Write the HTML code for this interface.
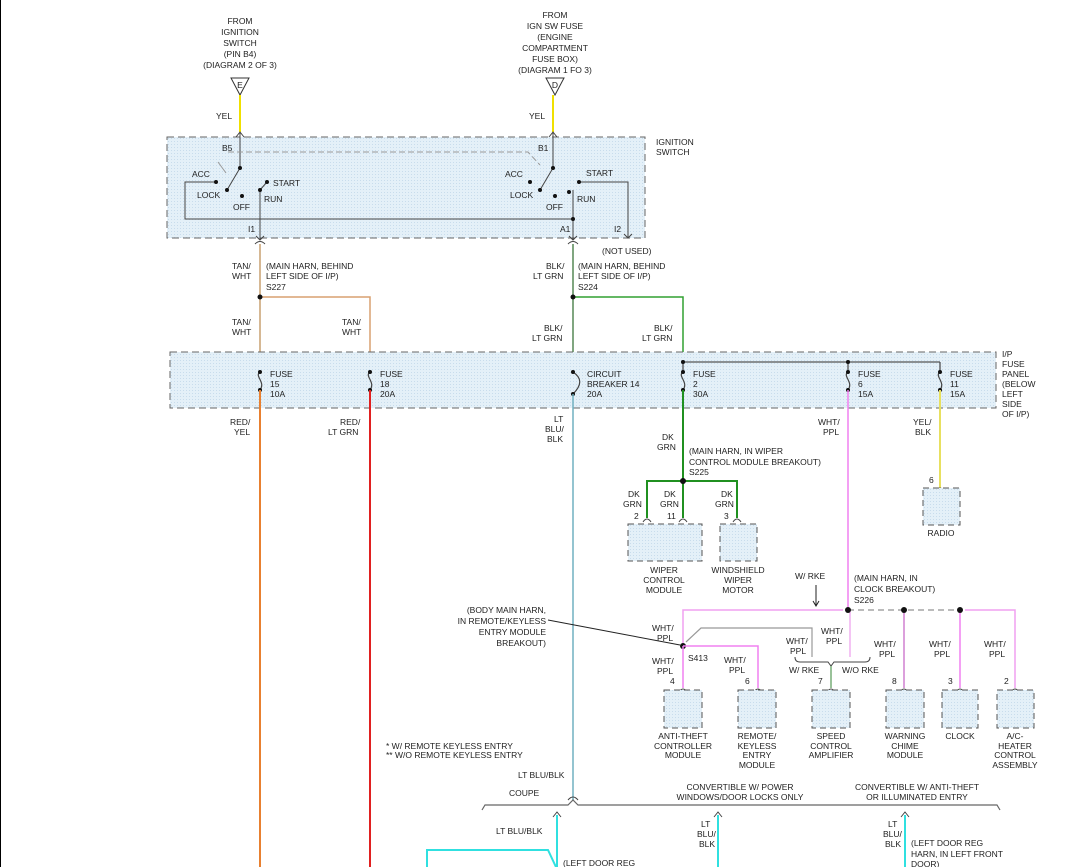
<!DOCTYPE html>
<html><head><meta charset="utf-8"><style>
html,body{margin:0;padding:0;background:#fff}
svg{display:block}
text{font-family:"Liberation Sans",sans-serif;font-size:8.5px;fill:#222}
</style></head><body>
<svg width="1070" height="867" viewBox="0 0 1070 867" xmlns="http://www.w3.org/2000/svg">
<defs>
<pattern id="dots" width="3" height="3" patternUnits="userSpaceOnUse"><rect width="3" height="3" fill="#e4f0f8"/><rect width="1" height="1" fill="#c8dcec"/></pattern>
</defs>
<line x1="0.5" y1="0" x2="0.5" y2="867" stroke="#000"/>
<!-- top labels -->
<g text-anchor="middle">
<text x="240" y="24">FROM</text><text x="240" y="35">IGNITION</text><text x="240" y="46">SWITCH</text><text x="240" y="57">(PIN B4)</text><text x="240" y="68">(DIAGRAM 2 OF 3)</text>
<text x="555" y="18">FROM</text><text x="555" y="29">IGN SW FUSE</text><text x="555" y="40">(ENGINE</text><text x="555" y="51">COMPARTMENT</text><text x="555" y="62">FUSE BOX)</text><text x="555" y="73">(DIAGRAM 1 FO 3)</text>
</g>
<polygon points="231,78 249,78 240,95" fill="#fff" stroke="#333"/><text x="240" y="88" text-anchor="middle" font-size="8">E</text>
<polygon points="546,78 564,78 555,95" fill="#fff" stroke="#333"/><text x="555" y="88" text-anchor="middle" font-size="8">D</text>
<line x1="240" y1="95" x2="240" y2="132" stroke="#f0e000" stroke-width="2"/>
<line x1="553" y1="95" x2="553" y2="132" stroke="#f0e000" stroke-width="2"/>
<text x="216" y="119">YEL</text><text x="529" y="119">YEL</text>
<!-- ignition switch box -->
<rect x="167" y="137" width="478" height="101" fill="url(#dots)" stroke="#666" stroke-dasharray="7,4"/>
<text x="656" y="145">IGNITION</text><text x="656" y="155">SWITCH</text>
<g stroke="#444" fill="none">
<path d="M240,132 L240,168 M236,137 L240,132 L244,137"/>
<path d="M553,132 L553,168 M549,137 L553,132 L557,137"/>
<path d="M228,152 L528,152 L540,165" stroke="#999" stroke-dasharray="6,3"/>
<path d="M218,162 L226,173" stroke="#999"/>
<path d="M240,168 L227,190"/><path d="M553,168 L540,190"/>
<path d="M216,182 L185,182 L185,219 L573,219"/>
<path d="M267,182 L260,190 L260,240"/>
<path d="M573,190 L573,240"/>
<path d="M579,182 L628,182 L628,238"/>
<path d="M256,236 L260,240 L264,236 M569,236 L573,240 L577,236 M624,234 L628,238 L632,234"/>
<path d="M255,244 Q260,239 265,244 M568,244 Q573,239 578,244"/>
</g>
<g fill="#111">
<circle cx="240" cy="168" r="2"/><circle cx="216" cy="182" r="2"/><circle cx="227" cy="190" r="2"/><circle cx="242" cy="196" r="2"/><circle cx="267" cy="182" r="2"/><circle cx="260" cy="190" r="2"/>
<circle cx="553" cy="168" r="2"/><circle cx="530" cy="182" r="2"/><circle cx="540" cy="190" r="2"/><circle cx="555" cy="196" r="2"/><circle cx="579" cy="182" r="2"/><circle cx="569" cy="192" r="2"/><circle cx="573" cy="219" r="2"/>
</g>
<text x="222" y="151">B5</text><text x="538" y="151">B1</text>
<text x="192" y="177">ACC</text><text x="197" y="198">LOCK</text><text x="233" y="210">OFF</text><text x="273" y="186">START</text><text x="264" y="202">RUN</text>
<text x="505" y="177">ACC</text><text x="510" y="198">LOCK</text><text x="546" y="210">OFF</text><text x="586" y="176">START</text><text x="577" y="202">RUN</text>
<text x="248" y="232">I1</text><text x="560" y="232">A1</text><text x="614" y="232">I2</text>
<text x="602" y="254">(NOT USED)</text>
<!-- wires S227 / S224 -->
<line x1="260" y1="244" x2="260" y2="372" stroke="#c8a070" stroke-width="1.5"/>
<path d="M260,297 L370,297 L370,372" stroke="#d8a070" stroke-width="1.5" fill="none"/>
<circle cx="260" cy="297" r="2.5" fill="#111"/>
<line x1="573" y1="244" x2="573" y2="372" stroke="#558855" stroke-width="1.5"/>
<path d="M573,297 L683,297 L683,362" stroke="#30a030" stroke-width="1.5" fill="none"/>
<circle cx="573" cy="297" r="2.5" fill="#111"/>
<text x="232" y="269">TAN/</text><text x="232" y="279">WHT</text>
<text x="266" y="269">(MAIN HARN, BEHIND</text><text x="266" y="279">LEFT SIDE OF I/P)</text><text x="266" y="290">S227</text>
<text x="546" y="269">BLK/</text><text x="533" y="279">LT GRN</text>
<text x="578" y="269">(MAIN HARN, BEHIND</text><text x="578" y="279">LEFT SIDE OF I/P)</text><text x="578" y="290">S224</text>
<text x="232" y="325">TAN/</text><text x="232" y="335">WHT</text><text x="342" y="325">TAN/</text><text x="342" y="335">WHT</text>
<text x="544" y="331">BLK/</text><text x="532" y="341">LT GRN</text><text x="654" y="331">BLK/</text><text x="642" y="341">LT GRN</text>
<!-- fuse panel -->
<rect x="170" y="352" width="826" height="56" fill="url(#dots)" stroke="#666" stroke-dasharray="7,4"/>
<text x="1002" y="357">I/P</text><text x="1002" y="367">FUSE</text><text x="1002" y="377">PANEL</text><text x="1002" y="387">(BELOW</text><text x="1002" y="397">LEFT</text><text x="1002" y="407">SIDE</text><text x="1002" y="417">OF I/P)</text>
<line x1="683" y1="362" x2="940" y2="362" stroke="#555" stroke-width="1.2"/>
<g stroke="#444" fill="none" stroke-width="1.2">
<path d="M260,372 C254,376 266,382 260,390"/><path d="M370,372 C364,376 376,382 370,390"/>
<path d="M573,372 C582,378 582,385 573,394"/>
<path d="M683,362 L683,372 C677,376 689,382 683,390"/><path d="M848,362 L848,372 C842,376 854,382 848,390"/><path d="M940,362 L940,372 C934,376 946,382 940,390"/>
</g>
<g fill="#111"><circle cx="260" cy="372" r="2"/><circle cx="260" cy="390" r="2"/><circle cx="370" cy="372" r="2"/><circle cx="370" cy="390" r="2"/><circle cx="573" cy="372" r="2"/><circle cx="573" cy="394" r="2"/><circle cx="683" cy="372" r="2"/><circle cx="683" cy="390" r="2"/><circle cx="848" cy="372" r="2"/><circle cx="848" cy="390" r="2"/><circle cx="940" cy="372" r="2"/><circle cx="940" cy="390" r="2"/><circle cx="683" cy="362" r="2"/><circle cx="848" cy="362" r="2"/></g>
<text x="270" y="377">FUSE</text><text x="270" y="387">15</text><text x="270" y="397">10A</text>
<text x="380" y="377">FUSE</text><text x="380" y="387">18</text><text x="380" y="397">20A</text>
<text x="587" y="377">CIRCUIT</text><text x="587" y="387">BREAKER 14</text><text x="587" y="397">20A</text>
<text x="693" y="377">FUSE</text><text x="693" y="387">2</text><text x="693" y="397">30A</text>
<text x="858" y="377">FUSE</text><text x="858" y="387">6</text><text x="858" y="397">15A</text>
<text x="950" y="377">FUSE</text><text x="950" y="387">11</text><text x="950" y="397">15A</text>
<!-- long wires -->
<line x1="260" y1="390" x2="260" y2="867" stroke="#e88030" stroke-width="2"/>
<line x1="370" y1="390" x2="370" y2="867" stroke="#e02020" stroke-width="2"/>
<line x1="573" y1="394" x2="573" y2="800" stroke="#70b0c0" stroke-width="1.5"/>
<text x="230" y="425">RED/</text><text x="234" y="435">YEL</text>
<text x="340" y="425">RED/</text><text x="328" y="435">LT GRN</text>
<text x="554" y="422">LT</text><text x="545" y="432">BLU/</text><text x="547" y="442">BLK</text>
<!-- fuse 2 green -->
<path d="M683,390 L683,481 M647,518 L647,481 L737,481 L737,518 M683,481 L683,518" stroke="#209020" stroke-width="2" fill="none"/>
<circle cx="683" cy="481" r="3" fill="#111"/>
<text x="662" y="440">DK</text><text x="657" y="450">GRN</text>
<text x="689" y="454">(MAIN HARN, IN WIPER</text><text x="689" y="465">CONTROL MODULE BREAKOUT)</text><text x="689" y="475">S225</text>
<text x="628" y="497">DK</text><text x="623" y="507">GRN</text><text x="664" y="497">DK</text><text x="660" y="507">GRN</text><text x="721" y="497">DK</text><text x="715" y="507">GRN</text>
<text x="634" y="519">2</text><text x="667" y="519">11</text><text x="724" y="519">3</text>
<!-- radio -->
<line x1="940" y1="390" x2="940" y2="488" stroke="#e8e060" stroke-width="2"/>
<text x="913" y="425">YEL/</text><text x="915" y="435">BLK</text><text x="929" y="483">6</text>
<!-- WHT/PPL 848 -->
<line x1="848" y1="390" x2="848" y2="610" stroke="#f080f0" stroke-width="1.5"/>
<text x="818" y="425">WHT/</text><text x="823" y="435">PPL</text>
<text x="854" y="581">(MAIN HARN, IN</text><text x="854" y="592">CLOCK BREAKOUT)</text><text x="854" y="603">S226</text>
<text x="795" y="579">W/ RKE</text>
<path d="M816,585 L816,606 M813,601 L816,606 L819,601" stroke="#222" fill="none"/>
<path d="M683,646 L683,610 L843,610" stroke="#f0a0f0" stroke-width="1.5" fill="none"/>
<line x1="848" y1="610" x2="960" y2="610" stroke="#777" stroke-dasharray="6,4"/>
<path d="M965,610 L1015,610 L1015,688" stroke="#f0a0f0" stroke-width="1.5" fill="none"/>
<line x1="904" y1="610" x2="904" y2="688" stroke="#d080d0" stroke-width="1.5"/>
<line x1="960" y1="610" x2="960" y2="688" stroke="#f080f0" stroke-width="1.5"/>
<line x1="850" y1="610" x2="850" y2="657" stroke="#f0b0f0" stroke-width="1.5"/>
<g fill="#111"><circle cx="848" cy="610" r="3"/><circle cx="904" cy="610" r="3"/><circle cx="960" cy="610" r="3"/><circle cx="683" cy="646" r="3"/></g>
<path d="M683,646 L683,688 M683,646 L758,646 L758,688" stroke="#f080f0" stroke-width="1.5" fill="none"/>
<path d="M686,642 L701,628 L812,628 L812,657" stroke="#999" stroke-width="1.2" fill="none"/>
<path d="M795,657 Q795,662 800,662 L828,662 L831,666 L834,662 L865,662 Q870,662 870,657" stroke="#444" fill="none"/>
<line x1="831" y1="666" x2="831" y2="688" stroke="#559955" stroke-width="1.2"/>
<path d="M548,620 L680,645" stroke="#222" fill="none"/>
<text x="546" y="613" text-anchor="end">(BODY MAIN HARN,</text><text x="546" y="624" text-anchor="end">IN REMOTE/KEYLESS</text><text x="546" y="635" text-anchor="end">ENTRY MODULE</text><text x="546" y="646" text-anchor="end">BREAKOUT)</text>
<text x="652" y="631">WHT/</text><text x="657" y="641">PPL</text>
<text x="652" y="664">WHT/</text><text x="657" y="674">PPL</text><text x="688" y="661">S413</text>
<text x="724" y="663">WHT/</text><text x="729" y="673">PPL</text>
<text x="786" y="644">WHT/</text><text x="790" y="654">PPL</text>
<text x="821" y="634">WHT/</text><text x="826" y="644">PPL</text>
<text x="789" y="673">W/ RKE</text><text x="842" y="673">W/O RKE</text>
<text x="874" y="647">WHT/</text><text x="879" y="657">PPL</text>
<text x="929" y="647">WHT/</text><text x="934" y="657">PPL</text>
<text x="984" y="647">WHT/</text><text x="989" y="657">PPL</text>
<text x="670" y="684">4</text><text x="745" y="684">6</text><text x="818" y="684">7</text><text x="892" y="684">8</text><text x="948" y="684">3</text><text x="1004" y="684">2</text>
<!-- connector arcs + boxes -->
<g stroke="#444" fill="none">
<path d="M643,522 Q647,516 651,522 M679,522 Q683,516 687,522 M733,522 Q737,516 741,522 M936,491 Q940,485 944,491"/>
<path d="M679,692 Q683,686 687,692 M754,692 Q758,686 762,692 M827,692 Q831,686 835,692 M900,692 Q904,686 908,692 M956,692 Q960,686 964,692 M1011,692 Q1015,686 1019,692"/>
</g>
<g fill="url(#dots)" stroke="#555" stroke-dasharray="6,4">
<rect x="628" y="524" width="74" height="37"/><rect x="720" y="524" width="37" height="37"/><rect x="923" y="488" width="37" height="37"/>
<rect x="664" y="690" width="38" height="38"/><rect x="738" y="690" width="38" height="38"/><rect x="812" y="690" width="38" height="38"/><rect x="886" y="690" width="38" height="38"/><rect x="942" y="690" width="36" height="38"/><rect x="997" y="690" width="37" height="38"/>
</g>
<g text-anchor="middle">
<text x="941" y="536">RADIO</text>
<text x="664" y="573">WIPER</text><text x="664" y="583">CONTROL</text><text x="664" y="593">MODULE</text>
<text x="738" y="573">WINDSHIELD</text><text x="738" y="583">WIPER</text><text x="738" y="593">MOTOR</text>
<text x="683" y="739">ANTI-THEFT</text><text x="683" y="749">CONTROLLER</text><text x="683" y="758">MODULE</text>
<text x="757" y="739">REMOTE/</text><text x="757" y="749">KEYLESS</text><text x="757" y="758">ENTRY</text><text x="757" y="768">MODULE</text>
<text x="831" y="739">SPEED</text><text x="831" y="749">CONTROL</text><text x="831" y="758">AMPLIFIER</text>
<text x="905" y="739">WARNING</text><text x="905" y="749">CHIME</text><text x="905" y="758">MODULE</text>
<text x="960" y="739">CLOCK</text>
<text x="1015" y="739">A/C-</text><text x="1015" y="749">HEATER</text><text x="1015" y="758">CONTROL</text><text x="1015" y="768">ASSEMBLY</text>
</g>
<text x="386" y="749">* W/ REMOTE KEYLESS ENTRY</text><text x="386" y="758">** W/O REMOTE KEYLESS ENTRY</text>
<!-- bottom -->
<text x="518" y="778">LT BLU/BLK</text><text x="509" y="796">COUPE</text>
<path d="M568,800 Q573,794 578,800" stroke="#444" fill="none"/>
<path d="M482,810 L485,805 L568,805 L573,800 L578,805 L997,805 L1000,810" stroke="#666" stroke-width="1.2" fill="none"/>
<g text-anchor="middle">
<text x="740" y="790">CONVERTIBLE W/ POWER</text><text x="740" y="800">WINDOWS/DOOR LOCKS ONLY</text>
<text x="917" y="790">CONVERTIBLE W/ ANTI-THEFT</text><text x="917" y="800">OR ILLUMINATED ENTRY</text>
</g>
<g stroke="#30e0e0" stroke-width="2" fill="none">
<path d="M557,815 L557,867"/><path d="M427,867 L427,850 L548,850 L556,867"/>
<path d="M718,815 L718,867"/><path d="M905,815 L905,867"/>
</g>
<path d="M553,817 L557,812 L561,817 M714,817 L718,812 L722,817 M901,817 L905,812 L909,817" stroke="#444" fill="none"/>
<text x="496" y="834">LT BLU/BLK</text>
<text x="701" y="827">LT</text><text x="697" y="837">BLU/</text><text x="699" y="847">BLK</text>
<text x="888" y="827">LT</text><text x="883" y="837">BLU/</text><text x="885" y="847">BLK</text>
<text x="911" y="846">(LEFT DOOR REG</text><text x="911" y="857">HARN, IN LEFT FRONT</text><text x="911" y="867">DOOR)</text>
<text x="563" y="866">(LEFT DOOR REG</text>
</svg>
</body></html>
